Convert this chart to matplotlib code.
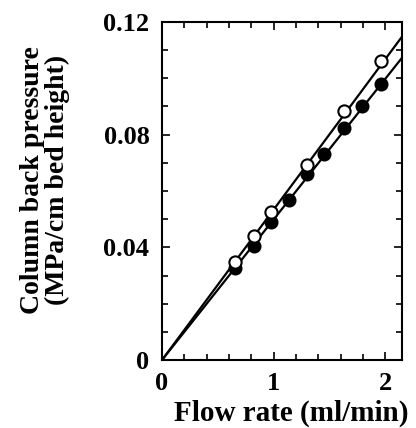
import matplotlib
matplotlib.use("Agg")
import matplotlib.pyplot as plt
from matplotlib.ticker import MultipleLocator

# Data
open_x = [0.655, 0.82, 0.975, 1.30, 1.63, 1.96]
open_y = [0.0347, 0.0440, 0.0524, 0.0694, 0.0884, 0.1060]
filled_x = [0.655, 0.825, 0.975, 1.14, 1.30, 1.45, 1.63, 1.79, 1.96]
filled_y = [0.0325, 0.0405, 0.0491, 0.0568, 0.0662, 0.0731, 0.0825, 0.0902, 0.0979]
fit_x = [0.0, 2.15]
open_fit_y = [0.0, 0.1148]
filled_fit_y = [0.0, 0.1073]

xticks = [0, 1, 2]
yticks = [0, 0.04, 0.08, 0.12]
ytick_labels = ["0", "0.04", "0.08", "0.12"]

plt.rcParams['font.family'] = ['Liberation Serif', 'DejaVu Serif']
plt.rcParams['font.weight'] = 'bold'

fig = plt.figure(figsize=(4.16, 4.28), dpi=100)
ax = fig.add_axes([162/416, 68/428, 240/416, 338/428])

ax.plot(fit_x, open_fit_y, color='black', lw=1.6, zorder=2)
ax.plot(fit_x, filled_fit_y, color='black', lw=1.6, zorder=2)
ax.plot(filled_x, filled_y, 'o', ms=8.8, mfc='black', mec='black', mew=1.3, zorder=3)
ax.plot(open_x, open_y, 'o', ms=8.8, mfc='white', mec='black', mew=1.5, zorder=4)

ax.set_xlim(0, 2.15)
ax.set_ylim(0, 0.12)
ax.set_xticks(xticks)
ax.set_xticklabels([str(v) for v in xticks])
ax.set_yticks(yticks)
ax.set_yticklabels(ytick_labels)
ax.xaxis.set_minor_locator(MultipleLocator(0.2))
ax.yaxis.set_minor_locator(MultipleLocator(0.01))

ax.tick_params(which='both', direction='in', top=True, right=True, width=1.2)
ax.tick_params(which='major', length=6, labelsize=19, pad=9)
ax.tick_params(which='minor', length=4)
for lab in ax.get_xticklabels() + ax.get_yticklabels():
    lab.set_fontweight('bold')
for s in ax.spines.values():
    s.set_linewidth(1.5)

ax.set_xlabel("Flow rate (ml/min)", fontsize=21, fontweight='bold')
ax.xaxis.set_label_coords((291 - 162) / 240, -(413 - 360) / 338)
ax.xaxis.label.set_va('center')
ax.set_ylabel("Column back pressure\n(MPa/cm bed height)", fontsize=20,
              fontweight='bold', linespacing=1.02)
ax.yaxis.set_label_coords(-(162 - 45) / 240, (360 - 180) / 338)
ax.yaxis.label.set_va('center')

fig.savefig("out.png", dpi=100)
